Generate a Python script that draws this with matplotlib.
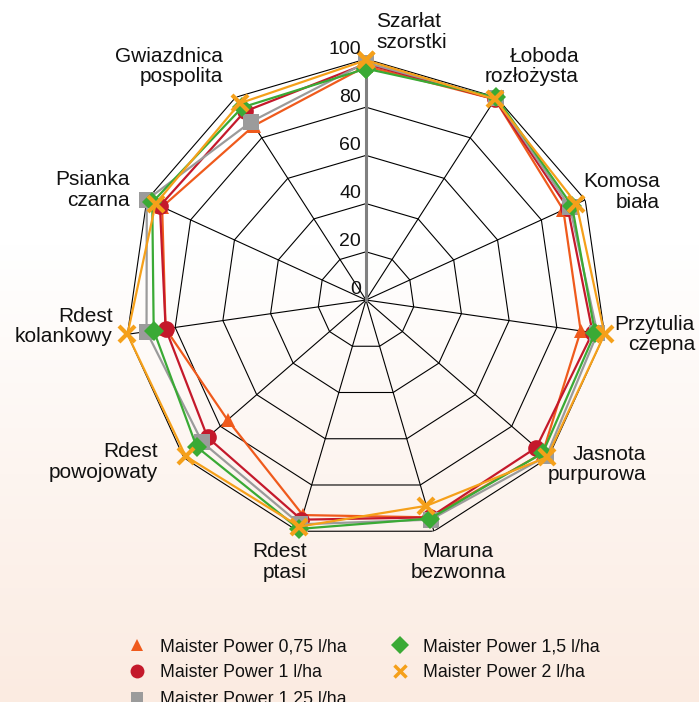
import numpy as np
import matplotlib
matplotlib.use("Agg")
import matplotlib.pyplot as plt
import matplotlib.transforms as mtransforms
from matplotlib.lines import Line2D

plt.rcParams['font.family'] = ['Liberation Sans', 'DejaVu Sans']

categories = ["Szarłat\nszorstki", "Łoboda\nrozłożysta", "Komosa\nbiała", "Przytulia\nczepna",
              "Jasnota\npurpurowa", "Maruna\nbezwonna", "Rdest\nptasi", "Rdest\npowojowaty",
              "Rdest\nkolankowy", "Psianka\nczarna", "Gwiazdnica\npospolita"]

series_names = ["Maister Power 0,75 l/ha", "Maister Power 1 l/ha", "Maister Power 1,25 l/ha",
                "Maister Power 1,5 l/ha", "Maister Power 2 l/ha"]

mp_075 = [97, 99, 90, 90, 97, 94, 93, 76, 84, 93, 86]
mp_1 = [98, 99, 92, 95, 93.5, 94, 95, 87, 84, 94, 93]
mp_125 = [98.5, 99.5, 93, 97, 99, 95, 97, 90, 92, 100, 88]
mp_15 = [96, 100, 94, 96, 97, 94.5, 99, 93, 89, 97.5, 95]
mp_2 = [99.5, 99, 96, 100, 99.5, 89, 98, 99, 100, 96, 97]

tick_values = [0, 20, 40, 60, 80, 100]

series = [mp_075, mp_1, mp_125, mp_15, mp_2]
colors = ["#ef5a1c", "#c4192b", "#9b9b9b", "#3aaa35", "#f5a01a"]
markers = ["^", "o", "s", "D", "x"]
msizes = [10, 12, 11, 10, 11]
mews = [0, 0, 0, 0, 3]
leg_sizes = [8, 10, 9, 9, 8]

W, H = 699, 702
fig = plt.figure(figsize=(W / 100, H / 100), dpi=100)

# background gradient
bg = fig.add_axes([0, 0, 1, 1])
bg.set_axis_off()
ny = 400
t = np.linspace(0, 1, ny)
s = np.clip((t - 0.35) / 0.65, 0, 1)
top = np.array([1.0, 1.0, 1.0])
bot = np.array([251, 235, 225]) / 255
grad = top[None, :] * (1 - s[:, None]) + bot[None, :] * s[:, None]
bg.imshow(grad[:, None, :], aspect='auto', extent=[0, 1, 0, 1], origin='upper')
bg.set_xlim(0, 1); bg.set_ylim(0, 1)

cx, cy, R = 366, 300, 241
ax = fig.add_axes([(cx - R) / W, 1 - (cy + R) / H, 2 * R / W, 2 * R / H], projection='polar')
ax.set_theta_zero_location('N')
ax.set_theta_direction(-1)
ax.set_ylim(0, 100)
ax.grid(False)
ax.set_xticks([])
ax.set_yticks([])
ax.spines['polar'].set_visible(False)
ax.patch.set_alpha(0)

n = len(categories)
theta = np.arange(n) * 2 * np.pi / n
theta_c = np.append(theta, theta[0])

# grid polygons
for lv in tick_values[1:]:
    ax.plot(theta_c, [lv] * (n + 1), color='black', lw=0.8, zorder=1)
for th in theta[1:]:
    ax.plot([th, th], [0, 100], color='black', lw=0.8, zorder=1)
ax.plot([0, 0], [0, 100], color='#808080', lw=2.2, zorder=1.5)

# tick labels
off = mtransforms.offset_copy(ax.transData, fig=fig, x=-5, y=10, units='dots')
for v in tick_values:
    ax.text(0, v, str(v), transform=off, ha='right', va='center', fontsize=14, color='#111111', zorder=5)

# series
handles = []
for vals, c, m, ms, mew, ls_, name in zip(series, colors, markers, msizes, mews, leg_sizes, series_names):
    vv = list(vals) + [vals[0]]
    ax.plot(theta_c, vv, color=c, lw=1.6, marker=m, markersize=ms, markeredgewidth=mew,
            markeredgecolor=c, markerfacecolor=c, zorder=3, clip_on=False)
    handles.append(Line2D([], [], ls='none', marker=m, color=c, markersize=ls_,
                          markeredgewidth=2.5 if mew else 0, markeredgecolor=c))

# category labels (pixel anchor, alignment)
label_pos = [(376, 12, 'left'), (579, 47, 'right'), (660, 172, 'right'), (695, 315, 'right'),
             (646, 445, 'right'), (458, 542, 'center'), (307, 542, 'right'), (158, 442, 'right'),
             (113, 307, 'right'), (130, 170, 'right'), (223, 47, 'right')]
for lab, (px, py, ha) in zip(categories, label_pos):
    fig.text(px / W, 1 - py / H, lab, ha=ha, va='top', fontsize=15, color='#111111',
             linespacing=1.1, multialignment=ha)

leg = fig.legend(handles, series_names, ncol=2, loc='upper left',
                 bbox_to_anchor=(128 / W, 1 - 638 / H), frameon=False, fontsize=12.8,
                 handlelength=1.0, handletextpad=0.8, columnspacing=2.5, labelspacing=0.53,
                 borderpad=0, borderaxespad=0)
for txt in leg.get_texts():
    txt.set_color('#111111')

fig.savefig('out.png', dpi=100)
